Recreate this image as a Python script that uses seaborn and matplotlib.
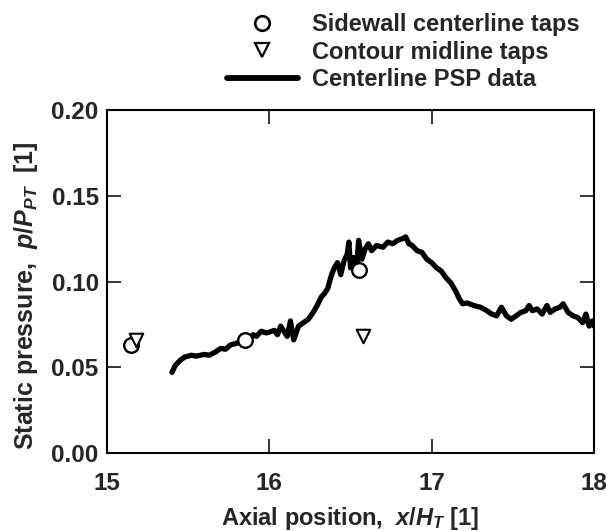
import numpy as np
import pandas as pd
import seaborn as sns
import matplotlib.pyplot as plt
from matplotlib.lines import Line2D

# centerline PSP data
psp_x = [15.40, 15.42, 15.45, 15.48, 15.52, 15.55, 15.60, 15.63, 15.67, 15.70,
         15.73, 15.76, 15.80, 15.83, 15.86, 15.88, 15.90, 15.92, 15.95, 15.98,
         16.00, 16.03, 16.05, 16.07, 16.09, 16.11, 16.13, 16.15, 16.18, 16.21,
         16.24, 16.27, 16.30, 16.32, 16.34, 16.36, 16.38, 16.40, 16.42, 16.44,
         16.46, 16.48, 16.49, 16.50, 16.52, 16.54, 16.55, 16.57, 16.59, 16.61,
         16.63, 16.66, 16.70, 16.73, 16.76, 16.79, 16.82, 16.84, 16.86, 16.88,
         16.91, 16.94, 16.97, 17.00, 17.03, 17.06, 17.09, 17.12, 17.15, 17.17,
         17.19, 17.22, 17.26, 17.30, 17.34, 17.37, 17.40, 17.43, 17.46, 17.49,
         17.52, 17.55, 17.58, 17.60, 17.62, 17.65, 17.68, 17.71, 17.73, 17.76,
         17.79, 17.81, 17.84, 17.87, 17.90, 17.93, 17.95, 17.97, 17.99, 18.00]
psp_y = [0.047, 0.051, 0.054, 0.056, 0.057, 0.0565, 0.0575, 0.057, 0.059, 0.061,
         0.0605, 0.063, 0.064, 0.066, 0.066, 0.0665, 0.069, 0.068, 0.071, 0.070,
         0.0705, 0.0715, 0.069, 0.074, 0.071, 0.068, 0.077, 0.066, 0.074, 0.076,
         0.078, 0.082, 0.087, 0.091, 0.093, 0.096, 0.103, 0.108, 0.111, 0.104,
         0.112, 0.116, 0.123, 0.108, 0.114, 0.111, 0.124, 0.113, 0.119, 0.122,
         0.118, 0.121, 0.120, 0.123, 0.122, 0.124, 0.125, 0.126, 0.122, 0.121,
         0.118, 0.117, 0.113, 0.111, 0.108, 0.106, 0.102, 0.099, 0.094, 0.090,
         0.087, 0.0875, 0.086, 0.085, 0.083, 0.081, 0.080, 0.085, 0.080, 0.078,
         0.080, 0.082, 0.083, 0.086, 0.083, 0.084, 0.081, 0.086, 0.082, 0.084,
         0.085, 0.087, 0.082, 0.080, 0.079, 0.076, 0.081, 0.074, 0.077, 0.074]

# pressure taps
sidewall_x = [15.15, 15.85, 16.55]
sidewall_y = [0.063, 0.066, 0.107]
contour_x = [15.18, 16.58]
contour_y = [0.066, 0.068]

x_ticks = [15, 16, 17, 18]
y_ticks = [0.00, 0.05, 0.10, 0.15, 0.20]

sns.set_style("ticks")
plt.rcParams['font.family'] = ['Liberation Sans', 'DejaVu Sans']
plt.rcParams['font.weight'] = 'bold'
plt.rcParams['mathtext.fontset'] = 'custom'
plt.rcParams['mathtext.rm'] = 'Liberation Sans:bold'
plt.rcParams['mathtext.it'] = 'Liberation Sans:italic:bold'
plt.rcParams['mathtext.bf'] = 'Liberation Sans:bold'

fig = plt.figure(figsize=(6.1, 5.31), dpi=100)
ax = fig.add_axes([0.1754, 0.1469, 0.7984, 0.6459])

psp = pd.DataFrame({'x': psp_x, 'y': psp_y})
sns.lineplot(data=psp, x='x', y='y', color='black', linewidth=3.8, ax=ax,
             sort=False, zorder=2)
sns.scatterplot(x=sidewall_x, y=sidewall_y, marker='o', s=110, facecolor='white',
                edgecolor='black', linewidth=1.7, ax=ax, zorder=3)
sns.scatterplot(x=contour_x, y=contour_y, marker='v', s=95, facecolor='white',
                edgecolor='black', linewidth=1.5, ax=ax, zorder=3)

ax.set_xlim(15, 18)
ax.set_ylim(0, 0.20)
ax.set_xticks(x_ticks)
ax.set_yticks(y_ticks)
ax.set_xticklabels([str(t) for t in x_ticks])
ax.set_yticklabels([f"{t:.2f}" for t in y_ticks])
ax.tick_params(direction='in', length=10, width=1.3, labelsize=17.5,
               top=True, right=True)
ax.tick_params(axis='x', pad=14)
ax.tick_params(axis='y', pad=6)
for s in ax.spines.values():
    s.set_linewidth(1.5)
    s.set_color('black')

ax.set_xlabel(r"Axial position,  $x$/$H_T$ [1]", fontsize=17, fontweight='bold', labelpad=7)
ax.set_ylabel(r"Static pressure,  $p$/$P_{PT}$  [1]", fontsize=18, fontweight='bold')
ax.yaxis.set_label_coords(-0.138, 0.458)

handles = [
    Line2D([], [], marker='o', linestyle='none', markersize=10.5, markerfacecolor='white',
           markeredgecolor='black', markeredgewidth=1.9),
    Line2D([], [], marker='v', linestyle='none', markersize=10, markerfacecolor='white',
           markeredgecolor='black', markeredgewidth=1.6),
    Line2D([], [], color='black', linewidth=4.2),
]
labels = ['Sidewall centerline taps', 'Contour midline taps', 'Centerline PSP data']
fig.legend(handles, labels, loc='upper left', bbox_to_anchor=(227 / 610, 1 - 13 / 531),
           frameon=False, fontsize=17, handlelength=3.0, handletextpad=0.6,
           labelspacing=0.2, borderpad=0, borderaxespad=0)

fig.savefig('out.png', dpi=100)
